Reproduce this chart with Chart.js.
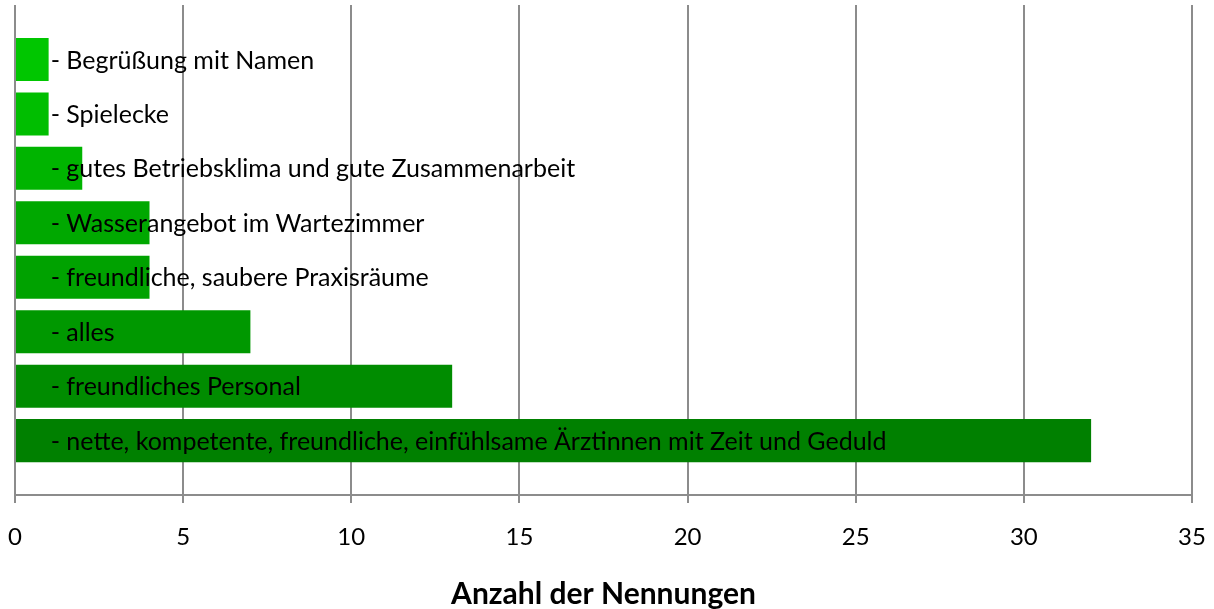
<!DOCTYPE html>
<html><head><meta charset="utf-8">
<script src="https://cdn.jsdelivr.net/npm/chart.js@4/dist/chart.umd.min.js"></script>
<style>html,body{margin:0;padding:0;background:#fff}#wrap{width:1214px;height:609px}</style>
</head><body><div id="wrap"><canvas id="c" width="1214" height="609"></canvas></div>
<script>
const categories = [
  "- Begrüßung mit Namen",
  "- Spielecke",
  "- gutes Betriebsklima und gute Zusammenarbeit",
  "- Wasserangebot im Wartezimmer",
  "- freundliche, saubere Praxisräume",
  "- alles",
  "- freundliches Personal",
  "- nette, kompetente, freundliche, einfühlsame Ärztinnen mit Zeit und Geduld"
];
const values = [1, 1, 2, 4, 4, 7, 13, 32];
const barColors = ["#00C600", "#00BE00", "#00B400", "#00A800", "#00A200", "#009800", "#008C00", "#008000"];
const xTicks = [0, 5, 10, 15, 20, 25, 30, 35];
const xTitle = "Anzahl der Nennungen";

const FONT = "Lato, 'Open Sans', sans-serif";

const labelPlugin = {
  id: 'catLabels',
  afterDatasetsDraw(chart) {
    const ctx = chart.ctx;
    const meta = chart.getDatasetMeta(0);
    const xs = chart.scales.x;
    ctx.save();
    ctx.font = "25px " + FONT;
    ctx.fillStyle = "#000";
    ctx.textBaseline = "middle";
    ctx.textAlign = "left";
    meta.data.forEach((bar, i) => {
      ctx.fillText(categories[i], xs.getPixelForValue(1) + 2, bar.y + 1);
    });
    ctx.restore();
  }
};

new Chart(document.getElementById('c'), {
  type: 'bar',
  data: {
    datasets: [{
      data: values.map((v, i) => ({ x: v, y: i + 1 })),
      backgroundColor: barColors,
      borderWidth: 0,
      categoryPercentage: 1,
      barPercentage: 0.79
    }]
  },
  plugins: [labelPlugin],
  options: {
    indexAxis: 'y',
    responsive: false,
    animation: false,
    layout: { padding: { left: 15, right: 22, top: 5, bottom: 0 } },
    plugins: { legend: { display: false }, tooltip: { enabled: false } },
    scales: {
      y: {
        type: 'linear', min: 0, max: 9, reverse: true, display: false, offset: false
      },
      x: {
        type: 'linear', min: 0, max: 35,
        afterBuildTicks(scale) { scale.ticks = xTicks.map(v => ({ value: v })); },
        grid: { color: '#8c8c8c', lineWidth: 2, tickLength: 8, drawTicks: true },
        border: { color: '#8c8c8c', width: 2 },
        ticks: { color: '#000', padding: 0, font: { family: FONT, size: 24, lineHeight: 2.83 } },
        title: { display: true, text: xTitle, color: '#000', padding: { top: 8, bottom: 0 },
                 font: { family: FONT, size: 30, weight: 'bold', lineHeight: 1 } }
      }
    }
  }
});
</script></body></html>
